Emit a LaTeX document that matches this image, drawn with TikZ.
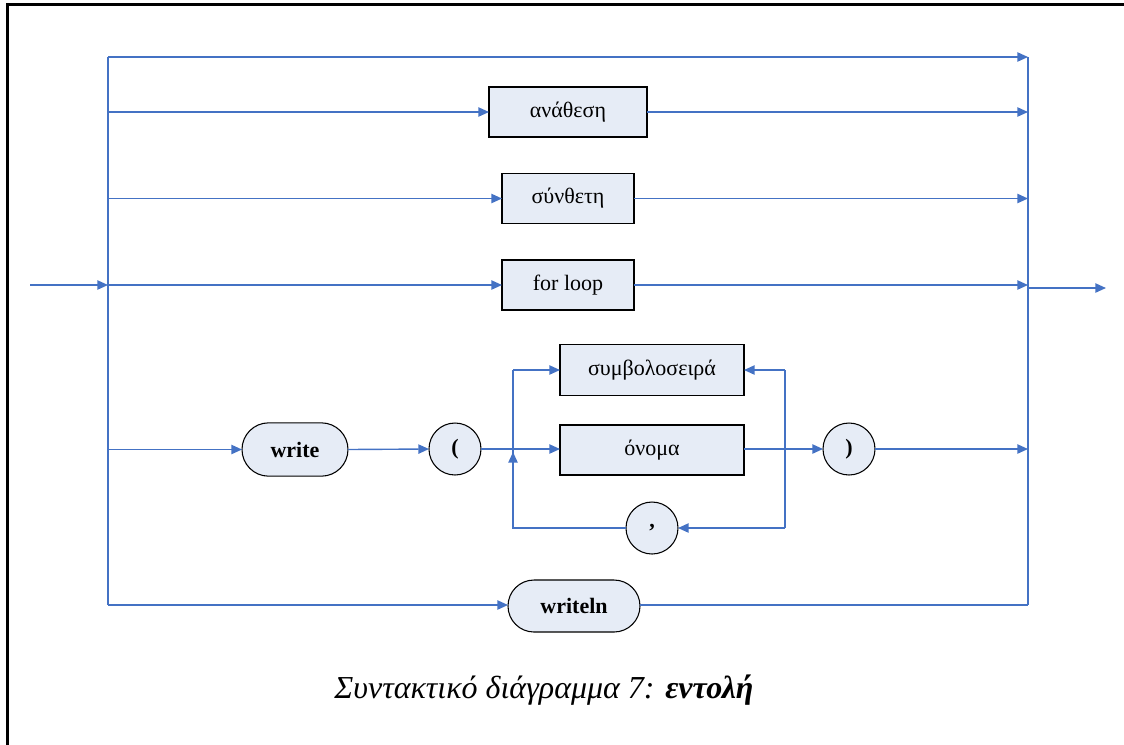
\documentclass[tikz,border=0pt]{standalone}
\usepackage{fontspec}
\setmainfont{Liberation Serif}
\usetikzlibrary{arrows.meta,shapes.misc}

\definecolor{lineblue}{RGB}{68,114,196}
\definecolor{boxfill}{RGB}{230,236,246}

\begin{document}
\begin{tikzpicture}[x=0.75pt,y=-0.75pt,
  flow/.style={draw=lineblue, line width=1.05pt},
  arr/.style={flow, -{Triangle[length=8pt,width=7pt]}},
  txt/.style={font=\fontsize{16.5}{19}\selectfont},
  rectbox/.style={txt, draw=black, fill=boxfill, line width=0.8pt, inner sep=0pt, outer sep=0pt},
  termbox/.style={txt, font=\fontsize{16.5}{19}\selectfont\bfseries, draw=black, fill=boxfill, line width=0.8pt,
                  rounded rectangle, inner sep=0pt, outer sep=0pt},
  termcirc/.style={termbox, circle, minimum size=39pt}
]
\useasboundingbox (0,0) rectangle (1124,744);
\clip (0,0) rectangle (1124,744);

% page frame
\draw[line width=2.3pt] (7.5,780) -- (7.5,4.5) -- (1160,4.5);

% nodes
\node[rectbox, minimum width=118.5pt, minimum height=37.5pt] (assign) at (568,112) {ανάθεση};
\node[rectbox, minimum width=99pt, minimum height=37pt] (compound) at (568,198.5) {σύνθετη};
\node[rectbox, minimum width=99pt, minimum height=37.5pt] (forloop) at (568,285) {for loop};
\node[termbox, minimum width=79.5pt, minimum height=40pt] (write) at (295,449.5) {write};
\node[termcirc] (lparen) at (455,449) {(};
\node[rectbox, minimum width=138pt, minimum height=38pt] (strlit) at (652,370) {συμβολοσειρά};
\node[rectbox, minimum width=138pt, minimum height=37.5pt] (name) at (652,450) {όνομα};
\node[termcirc] (comma) at (652,528) {,};
\node[termcirc] (rparen) at (849,449) {)};
\node[termbox, minimum width=99pt, minimum height=39pt] (writeln) at (574,606) {writeln};
\node[font=\fontsize{24}{28}\selectfont\itshape] (caption) at (544,690) {Συντακτικό διάγραμμα 7: \textbf{εντολή}};

% junction points
\coordinate (in) at (30,285);
\coordinate (L1) at (108,57);
\coordinate (L2) at (108,112);
\coordinate (L3) at (108,198.5);
\coordinate (L4) at (108,285);
\coordinate (L5) at (108,449.5);
\coordinate (L6) at (108,605);
\coordinate (R1) at (1028,57);
\coordinate (R2) at (1028,112);
\coordinate (R3) at (1028,198.5);
\coordinate (R4) at (1028,285);
\coordinate (R5) at (1028,449);
\coordinate (R6) at (1028,605);
\coordinate (Rout) at (1028,288);
\coordinate (out) at (1106,288);
\coordinate (lt) at (513,370);
\coordinate (lm) at (513,452);
\coordinate (lb) at (513,528);
\coordinate (rt) at (785,370);
\coordinate (rm) at (785,449);
\coordinate (rb) at (785,528);

% buses
\draw[flow] (L1) -- (L6);
\draw[flow] (R1) -- (R6);
\draw[arr] (in) -- (L4);
\draw[arr] (Rout) -- (out);

% empty path
\draw[arr] (L1) -- (R1);

% assignment
\draw[arr] (L2) -- (assign.west);
\draw[arr] (assign.east) -- (R2);

% compound
\draw[arr] (L3) -- (compound.west);
\draw[arr] (compound.east) -- (R3);

% for loop
\draw[arr] (L4) -- (forloop.west);
\draw[arr] (forloop.east) -- (R4);

% write ( ... )
\draw[arr] (L5) -- (write.west);
\draw[arr] (write.east) -- (lparen.west);
\draw[arr] (lparen.east) -- (name.west |- lparen.east);
\draw[arr] (lt) -- (strlit.west);
\draw[flow] (comma.west) -- (lb) -- (lt);
\draw[arr] (lb) -- (lm);
\draw[arr] (name.east |- rparen.west) -- (rparen.west);
\draw[flow] (rt) -- (rb);
\draw[arr] (rt) -- (strlit.east);
\draw[arr] (rb) -- (comma.east);
\draw[arr] (rparen.east) -- (R5);

% writeln
\draw[arr] (L6) -- (writeln.west |- L6);
\draw[flow] (writeln.east |- R6) -- (R6);
\end{tikzpicture}
\end{document}
